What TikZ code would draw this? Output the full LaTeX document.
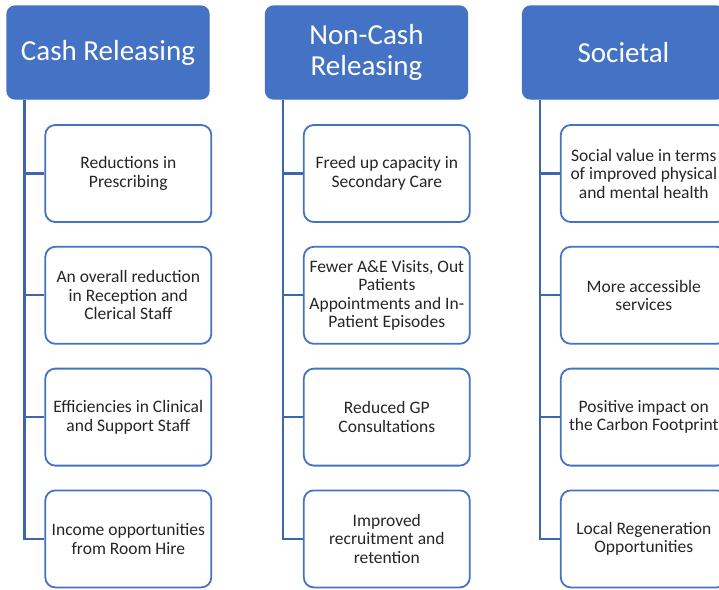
\documentclass[tikz,border=0pt]{standalone}
\usepackage{fontspec}
\setmainfont{Carlito}
\usepackage{tikz}
\usetikzlibrary{positioning}

\definecolor{benefitblue}{HTML}{4472C4}
\definecolor{linkblue}{HTML}{3E66B0}
\definecolor{textgrey}{HTML}{262626}

\begin{document}
\begin{tikzpicture}[
    x=1pt, y=-1pt,
    node distance=23pt,
    head/.style={rectangle, draw=benefitblue, fill=benefitblue, line width=1.2pt, rounded corners=8pt, minimum width=202pt, minimum height=93pt, align=center, text=white, font=\fontsize{29}{31}\selectfont},
    item/.style={rectangle, draw=benefitblue, fill=white, line width=1.8pt, rounded corners=10pt, minimum width=166pt, minimum height=97pt, inner sep=2pt, align=center, text=textgrey, font=\fontsize{17.5}{18.5}\selectfont},
    link/.style={draw=linkblue, line width=2.2pt},
]
\useasboundingbox (0,0) rectangle (719,589);
\clip (0,0) rectangle (719,589);

% column headers
\node[head] (cash) at (108,52.5) {Cash Releasing};
\node[head] (noncash) at (366.5,52.5) {Non-Cash\\Releasing};
\node[head] (societal) at (623.5,52.5) {Societal};

% cash releasing
\node[item, below right=24.5pt and 38pt of cash.south west, anchor=north west] (cash1) {Reductions in\\Prescribing};
\node[item, below=of cash1] (cash2) {An overall reduction\\in Reception and\\Clerical Staff};
\node[item, below=of cash2] (cash3) {Efficiencies in Clinical\\and Support Staff};
\node[item, below=of cash3] (cash4) {Income opportunities\\from Room Hire};

% non-cash releasing
\node[item, below right=24.5pt and 38pt of noncash.south west, anchor=north west] (noncash1) {Freed up capacity in\\Secondary Care};
\node[item, below=of noncash1] (noncash2) {Fewer A\&E Visits, Out\\Patients\\Appointments and In-\\Patient Episodes};
\node[item, below=of noncash2] (noncash3) {Reduced GP\\Consultations};
\node[item, below=of noncash3] (noncash4) {Improved\\recruitment and\\retention};

% societal
\node[item, below right=24.5pt and 38pt of societal.south west, anchor=north west] (societal1) {Social value in terms\\of improved physical\\and mental health};
\node[item, below=of societal1] (societal2) {More accessible\\services};
\node[item, below=of societal2] (societal3) {Positive impact on\\the Carbon Footprint};
\node[item, below=of societal3] (societal4) {Local Regeneration\\Opportunities};

% trunks
\coordinate (cashtrunk) at ([xshift=18pt]cash.south west);
\coordinate (noncashtrunk) at ([xshift=18pt]noncash.south west);
\coordinate (societaltrunk) at ([xshift=18pt]societal.south west);

\draw[link] (cashtrunk) |- (cash4.west);
\draw[link] (cash1.west) -- (cash1.west -| cashtrunk);
\draw[link] (cash2.west) -- (cash2.west -| cashtrunk);
\draw[link] (cash3.west) -- (cash3.west -| cashtrunk);

\draw[link] (noncashtrunk) |- (noncash4.west);
\draw[link] (noncash1.west) -- (noncash1.west -| noncashtrunk);
\draw[link] (noncash2.west) -- (noncash2.west -| noncashtrunk);
\draw[link] (noncash3.west) -- (noncash3.west -| noncashtrunk);

\draw[link] (societaltrunk) |- (societal4.west);
\draw[link] (societal1.west) -- (societal1.west -| societaltrunk);
\draw[link] (societal2.west) -- (societal2.west -| societaltrunk);
\draw[link] (societal3.west) -- (societal3.west -| societaltrunk);

\end{tikzpicture}
\end{document}
